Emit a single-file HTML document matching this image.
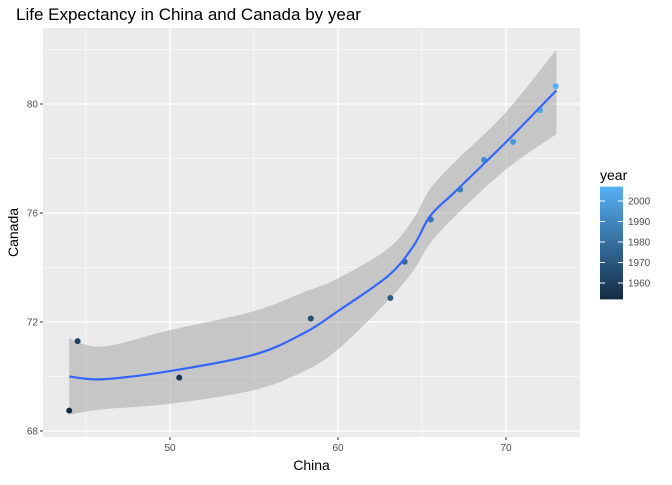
<!DOCTYPE html>
<html><head><meta charset="utf-8"><style>body{margin:0;background:#fff}svg{font-family:"Liberation Sans",sans-serif}</style></head>
<body>
<svg id="c" width="672" height="480"></svg>
<script>
const china=[44.0,50.54896,44.50136,58.38112,63.11888,63.96736,65.525,67.274,68.69,70.426,72.028,72.961];
const canada=[68.75,69.96,71.3,72.13,72.88,74.21,75.76,76.86,77.95,78.61,79.77,80.653];
const years=[1952,1957,1962,1967,1972,1977,1982,1987,1992,1997,2002,2007];
const fitX=[44,46,50,55,58,60,63,64.5,65.5,67,70,73];
const fitY=[70.0,69.9,70.2,70.8,71.6,72.4,73.7,74.8,75.9,76.8,78.6,80.5];
const fitHi=[71.4,71.1,71.7,72.4,73.1,73.6,74.7,75.8,76.9,77.9,79.7,82.0];
const fitLo=[68.6,68.8,69.0,69.5,70.2,71.0,72.8,73.9,74.9,75.9,77.6,78.9];
const xTicks=[50,60,70], yTicks=[68,72,76,80], legTicks=[1960,1970,1980,1990,2000];
const NS="http://www.w3.org/2000/svg", svg=document.getElementById('c');
const px=v=>170+(v-50)*16.8, py=v=>104+(80-v)*27.25;
const L=43,R=580,T=28,B=437;
function el(t,a,p){const e=document.createElementNS(NS,t);for(const k in a)e.setAttribute(k,a[k]);(p||svg).appendChild(e);return e;}
function col(y){const t=(y-1952)/55;const a=[0x13,0x2B,0x43],b=[0x56,0xB1,0xF7];return 'rgb('+a.map((v,i)=>Math.round(v+(b[i]-v)*t)).join(',')+')';}
function curve(pts,start){let s=(start?'M':'L')+pts[0];
for(let i=0;i<pts.length-1;i++){const p0=pts[Math.max(0,i-1)],p1=pts[i],p2=pts[i+1],p3=pts[Math.min(pts.length-1,i+2)];
s+='C'+(p1[0]+(p2[0]-p0[0])/6)+','+(p1[1]+(p2[1]-p0[1])/6)+' '+(p2[0]-(p3[0]-p1[0])/6)+','+(p2[1]-(p3[1]-p1[1])/6)+' '+p2;}return s;}
let e=el('rect',{x:L,y:T,width:R-L,height:B-T,fill:'#ebebeb'});

for(let v=45;v<=75;v+=5){if(v%10){el('line',{x1:px(v),x2:px(v),y1:T,y2:B,stroke:'#fff','stroke-width':0.6});}}
for(let v=70;v<=82;v+=4){el('line',{x1:L,x2:R,y1:py(v),y2:py(v),stroke:'#fff','stroke-width':0.6});}
xTicks.forEach(v=>{el('line',{x1:px(v),x2:px(v),y1:T,y2:B,stroke:'#fff','stroke-width':1.2});
el('line',{x1:px(v),x2:px(v),y1:B,y2:B+3,stroke:'#333'});
e=el('text',{x:px(v),y:B+14,'font-size':10,fill:'#4d4d4d','text-anchor':'middle'});e.textContent=v;
});
yTicks.forEach(v=>{el('line',{x1:L,x2:R,y1:py(v),y2:py(v),stroke:'#fff','stroke-width':1.2});
el('line',{x1:L-3,x2:L,y1:py(v),y2:py(v),stroke:'#333'});
e=el('text',{x:L-5,y:py(v)+3.5,'font-size':10,fill:'#4d4d4d','text-anchor':'end'});e.textContent=v;
});
const hiPts=fitX.map((x,i)=>[px(x),py(fitHi[i])]);
const loPts=fitX.map((x,i)=>[px(x),py(fitLo[i])]).reverse();
e=el('path',{d:curve(hiPts,true)+curve(loPts,false)+'Z',fill:'#999','fill-opacity':0.45});

china.forEach((x,i)=>{e=el('circle',{cx:px(x),cy:py(canada[i]),r:3,fill:col(years[i])});
});
e=el('path',{d:curve(fitX.map((x,i)=>[px(x),py(fitY[i])]),true),fill:'none',stroke:'#3366FF','stroke-width':2.2});

e=el('text',{x:16,y:20,'font-size':17,fill:'#000'});e.textContent='Life Expectancy in China and Canada by year';

e=el('text',{x:(L+R)/2,y:470,'font-size':14,'text-anchor':'middle'});e.textContent='China';

e=el('text',{x:18,y:(T+B)/2,'font-size':14,'text-anchor':'middle',transform:'rotate(-90 18 '+(T+B)/2+')'});e.textContent='Canada';

const ly=y=>299.4-(y-1952)*2.05;
const g=el('linearGradient',{id:'gr',x1:0,y1:1,x2:0,y2:0},el('defs',{}));
el('stop',{offset:0,'stop-color':col(1952)},g);el('stop',{offset:1,'stop-color':col(2007)},g);
e=el('rect',{x:600,y:ly(2007),width:23,height:ly(1952)-ly(2007),fill:'url(#gr)'});

e=el('text',{x:600,y:180,'font-size':14});e.textContent='year';

legTicks.forEach(v=>{el('line',{x1:600,x2:605,y1:ly(v),y2:ly(v),stroke:'#fff'});el('line',{x1:618,x2:623,y1:ly(v),y2:ly(v),stroke:'#fff'});
e=el('text',{x:628,y:ly(v)+3.5,'font-size':10,fill:'#4d4d4d'});e.textContent=v;
});
</script>
</body></html>
